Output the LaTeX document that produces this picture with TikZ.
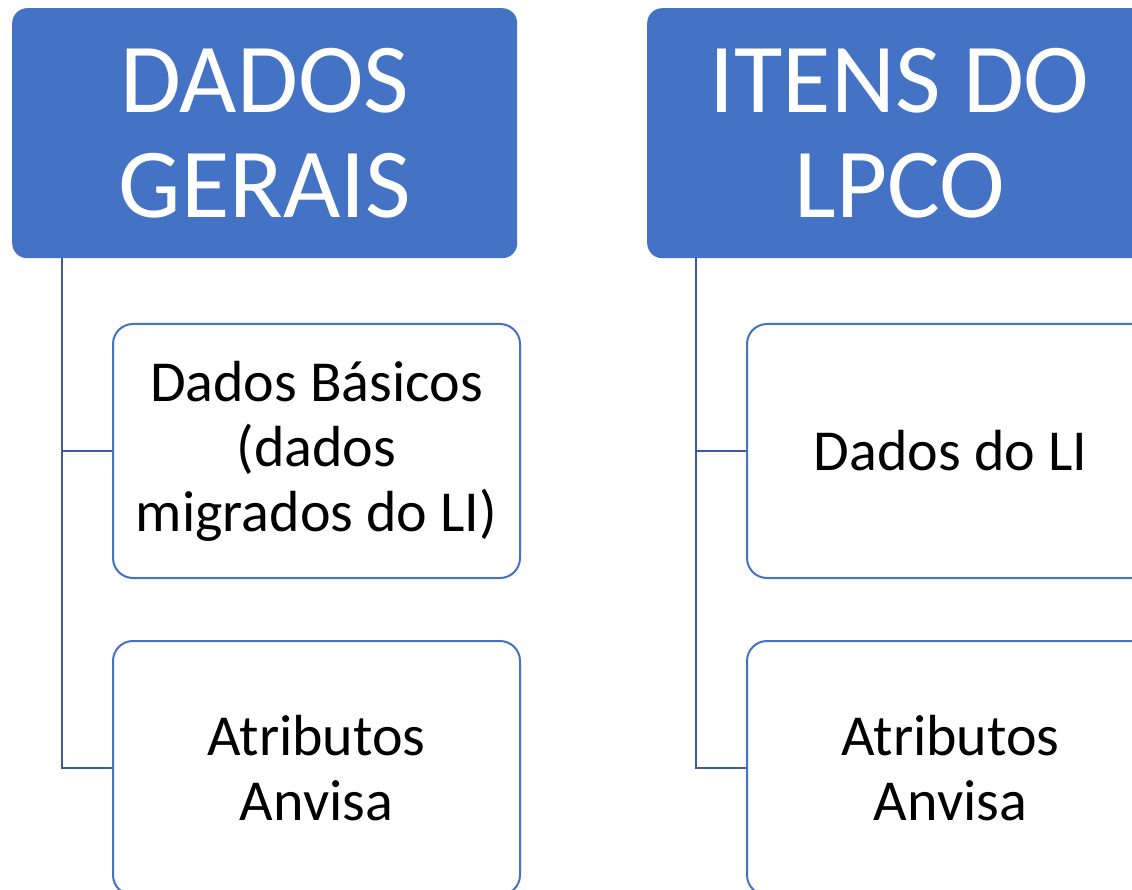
\documentclass[tikz,border=0pt]{standalone}
\usepackage{fontspec}
\setmainfont{Carlito}
\definecolor{hdrblue}{HTML}{4472C4}
\definecolor{linkblue}{HTML}{3A5C9E}

\begin{document}
\begin{tikzpicture}[x=1pt,y=-1pt,
  hdr/.style={fill=hdrblue,text=white,rounded corners=15pt,anchor=north west,
    minimum width=505pt,minimum height=250pt,align=center,inner sep=0pt,
    font=\fontsize{99}{105}\selectfont},
  sub/.style={draw=hdrblue,line width=2pt,fill=white,rounded corners=20pt,anchor=north west,
    minimum width=407pt,minimum height=254pt,align=center,inner sep=0pt,
    font=\fontsize{58}{65}\selectfont},
  link/.style={draw=linkblue,line width=2pt}]
  \useasboundingbox (0,0) rectangle (1132,890);
  \clip (0,0) rectangle (1132,890);
  \node[hdr] (dg) at (12,8) {DADOS\\GERAIS};
  \node[hdr] (il) at (647,8) {ITENS DO\\LPCO};
  \node[sub] (db) at (112,323) {Dados Básicos\\(dados\\migrados do LI)};
  \node[sub] (aa) at (112,640) {Atributos\\Anvisa};
  \node[sub] (dl) at (746,323) {Dados do LI};
  \node[sub] (ab) at (746,640) {Atributos\\Anvisa};
  \draw[link] (dg.south west) ++(50,0) |- (db.west);
  \draw[link] (dg.south west) ++(50,0) |- (aa.west);
  \draw[link] (il.south west) ++(49,0) |- (dl.west);
  \draw[link] (il.south west) ++(49,0) |- (ab.west);
\end{tikzpicture}
\end{document}
